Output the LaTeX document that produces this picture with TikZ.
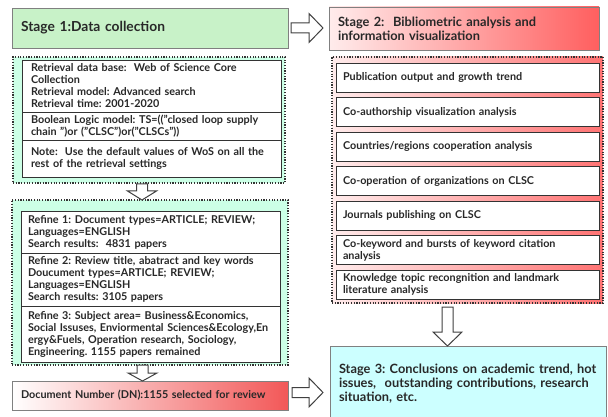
\documentclass[tikz,border=0pt]{standalone}
\usepackage{fontspec}
\setmainfont{Lato}
\usetikzlibrary{positioning,calc}

\definecolor{textgray}{RGB}{40,40,40}
\definecolor{stagegreen}{RGB}{200,242,200}
\definecolor{panelgreen}{RGB}{204,255,230}
\definecolor{stagered}{RGB}{255,95,95}
\definecolor{dnred}{RGB}{242,88,88}
\definecolor{panelred}{RGB}{255,115,115}
\definecolor{palered}{RGB}{255,236,236}
\definecolor{stagecyan}{RGB}{204,255,255}

\tikzset{
	stagebox/.style={draw=black!50, line width=0.8pt, anchor=north west, outer sep=0pt, inner xsep=9pt, inner ysep=0pt, align=left, text=textgray, font=\fontsize{12.8}{14}\selectfont\bfseries},
	panel/.style={draw=black!80, dash pattern=on 1.2pt off 1.5pt, line width=1.1pt, anchor=north west, outer sep=0pt, inner sep=0pt},
	cell/.style={draw=black!80, line width=0.9pt, fill=white, anchor=north west, outer sep=0pt, inner ysep=0pt, align=left, text=textgray, font=\fontsize{10.8}{12}\selectfont\bfseries},
	hollow/.style={draw=black!75, fill=white, line width=1pt, line join=miter}
}

% hollow block arrows: start, tip, head length
\newcommand{\blockdown}[3]{%
	\draw[hollow] let \p1=(#1), \p2=(#2) in
		(\x1-5.5pt,\y1) -- (\x1+5.5pt,\y1) -- (\x1+5.5pt,\y2+#3) -- (\x1+14.5pt,\y2+#3)
		-- (\x1,\y2) -- (\x1-14.5pt,\y2+#3) -- (\x1-5.5pt,\y2+#3) -- cycle;}
\newcommand{\blockright}[3]{%
	\draw[hollow] let \p1=(#1), \p2=(#2) in
		(\x1,\y1+5pt) -- (\x2-#3,\y1+5pt) -- (\x2-#3,\y1+14.5pt) -- (\x2,\y1)
		-- (\x2-#3,\y1-14.5pt) -- (\x2-#3,\y1-5pt) -- (\x1,\y1-5pt) -- cycle;}

\begin{document}
\frenchspacing
\begin{tikzpicture}[x=1pt, y=-1pt]
	\useasboundingbox (0,0) rectangle (608,417);

	% stage 1
	\node[stagebox, fill=stagegreen, text width=258pt, minimum height=40pt, font=\fontsize{13.8}{14}\selectfont\bfseries] (s1) at (12,8) {Stage 1:Data collection};
	\node[panel, fill=panelgreen, minimum width=272pt, minimum height=126pt] (p1) at (13,57) {};
	\node[cell, text width=241pt, inner xsep=9pt, minimum height=52pt] (r1) at (22,60) {Retrieval data base:\ \ Web of Science Core\\Collection\\Retrieval model: Advanced search\\Retrieval time: 2001-2020};
	\node[cell, text width=241pt, inner xsep=9pt, minimum height=28pt, below=0pt of r1] (r2) {Boolean Logic model: TS=(("closed loop supply\\chain ")or ("CLSC")or("CLSCs"))};
	\node[cell, text width=241pt, inner xsep=9pt, minimum height=37pt, below=0pt of r2] (r3) {Note:\ \ Use the default values of WoS on all the\\rest of the retrieval settings};

	\node[panel, fill=panelgreen, minimum width=276pt, minimum height=165pt] (p2) at (12,200) {};
	\node[cell, text width=245pt, inner xsep=7pt, minimum height=42pt] (f1) at (21,211) {Refine 1: Document types=ARTICLE; REVIEW;\\Languages=ENGLISH\\Search results:\ \ 4831 papers};
	\node[cell, text width=245pt, inner xsep=7pt, minimum height=53pt, below=0pt of f1] (f2) {Refine 2: Review title, abatract and key words\\Doucument types=ARTICLE; REVIEW;\\Languages=ENGLISH\\Search results: 3105 papers};
	\node[cell, text width=245pt, inner xsep=7pt, minimum height=56pt, below=0pt of f2] (f3) {Refine 3: Subject area= Business\&Economics,\\Social Issuses, Enviormental Sciences\&Ecology,En\\ergy\&Fuels, Operation research, Sociology,\\Engineering. 1155 papers remained};

	\node[stagebox, left color=white, right color=dnred, text width=258pt, minimum height=29pt, font=\fontsize{10.8}{12}\selectfont\bfseries] (dn) at (12,381) {Document Number (DN):1155 selected for review};

	% stage 2
	\node[stagebox, left color=palered, right color=stagered, text width=252pt, minimum height=43pt] (s2) at (329,7) {Stage 2:\ \ Bibliometric analysis and\\information visualization};
	\node[panel, left color=palered, right color=panelred, minimum width=271pt, minimum height=246pt] (p3) at (332,57) {};
	\node[cell, text width=249pt, inner xsep=7pt, minimum height=29pt] (a1) at (336,63) {Publication output and growth trend};
	\node[cell, text width=249pt, inner xsep=7pt, minimum height=29pt, below=5.5pt of a1] (a2) {Co-authorship visualization analysis};
	\node[cell, text width=249pt, inner xsep=7pt, minimum height=29pt, below=5.5pt of a2] (a3) {Countries/regions cooperation analysis};
	\node[cell, text width=249pt, inner xsep=7pt, minimum height=29pt, below=5.5pt of a3] (a4) {Co-operation of organizations on CLSC};
	\node[cell, text width=249pt, inner xsep=7pt, minimum height=29pt, below=5.5pt of a4] (a5) {Journals publishing on CLSC};
	\node[cell, text width=249pt, inner xsep=7pt, minimum height=29pt, below=5.5pt of a5] (a6) {Co-keyword and bursts of keyword citation\\analysis};
	\node[cell, text width=249pt, inner xsep=7pt, minimum height=29pt, below=5.5pt of a6] (a7) {Knowledge topic recongnition and landmark\\literature analysis};

	% stage 3
	\node[stagebox, fill=stagecyan, text width=258pt, minimum height=76pt] (s3) at (330,346) {Stage 3: Conclusions on academic trend, hot\\issues,\ \ outstanding contributions, research\\situation, etc.};

	% arrows
	\blockright{$(s1.east)+(3,0)$}{$(s2.west)+(-6,0)$}{14pt}
	\blockdown{$(p1.south)+(-7,1)$}{p2.north}{9pt}
	\blockdown{$(p2.south)+(-7.5,0)$}{dn.north}{8pt}
	\blockright{$(dn.east)+(4,-3)$}{$(s3.west)+(-7,0)$}{14pt}
	\blockdown{$(p3.south)+(-20,4)$}{s3.north}{14pt}
\end{tikzpicture}
\end{document}
